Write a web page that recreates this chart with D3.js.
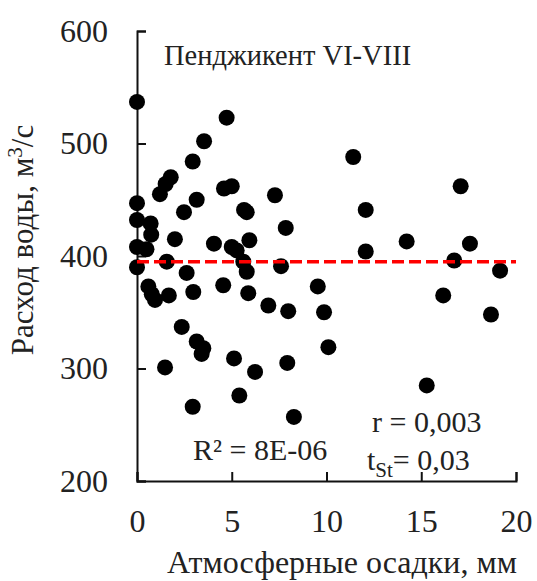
<!DOCTYPE html>
<html>
<head>
<meta charset="utf-8">
<script src="https://cdn.jsdelivr.net/npm/d3@7"></script>
<style>
  body { margin: 0; background: #fff; }
</style>
</head>
<body>
<div id="chart"></div>
<script>
// precipitation (mm) and discharge (m3/s)
let precip = [0, 4.73, 3.54, 2.94, 1.78, 1.51, 1.21, 0, 3.15, 4.59, 5.0, 7.28, 2.48, 5.65, 5.79,
    0, 0.72, 0.75, 0, 0.5, 2.0, 4.06, 5.0, 5.26, 5.93, 7.85, 0, 1.57, 2.62, 5.61, 5.79,
    0.6, 0.78, 0.95, 1.68, 2.97, 4.55, 5.87, 6.93, 2.36, 3.15, 3.5, 3.41, 5.12, 6.23, 1.48,
    5.4, 2.94, 11.41, 17.08, 12.07, 14.23, 17.57, 12.07, 16.74, 7.6, 19.16, 9.54, 16.16,
    7.98, 9.87, 18.68, 10.1, 7.93, 15.29, 8.28];
let discharge = [537, 523, 502, 484, 470, 464, 455, 447, 450, 460, 462, 454, 439, 441, 439,
    432, 429, 419, 408, 406, 415, 411, 408, 405, 414, 425, 390, 395, 385, 395, 386,
    373, 366, 361, 365, 368, 374, 367, 356, 337, 324, 318, 313, 309, 297, 301,
    276, 266, 488, 462, 441, 413, 411, 404, 396, 391, 387, 373, 365,
    351, 350, 348, 319, 305, 285, 257];
let meanLine = [[0, 395], [20, 395]];
let xTicks = [0, 5, 10, 15, 20];
let yTicks = [200, 300, 400, 500, 600];

let serif = "'Liberation Serif', 'Times New Roman', 'DejaVu Serif', serif";
let width = 537, height = 581;
let margin = {top: 31, right: 21, bottom: 100, left: 137};

let svg = d3.select("#chart")
    .append("svg")
    .attr("width", width)
    .attr("height", height)
    .attr("font-family", serif);

let x = d3.scaleLinear().domain([0, 20]).range([margin.left, width - margin.right]);
let y = d3.scaleLinear().domain([200, 600]).range([height - margin.bottom, margin.top]);

// axes, ticks pointing inward
let xAxis = svg.append("g")
    .attr("transform", "translate(0," + y(200) + ")")
    .call(d3.axisBottom(x).tickValues(xTicks).tickSize(-9).tickPadding(28));
let yAxis = svg.append("g")
    .attr("transform", "translate(" + x(0) + ",0)")
    .call(d3.axisLeft(y).tickValues(yTicks).tickSize(-9).tickPadding(29));

[xAxis, yAxis].forEach(g => {
    g.attr("font-family", serif).attr("font-size", 32);
    g.select(".domain").attr("stroke", "#111").attr("stroke-width", 2);
    g.selectAll(".tick line").attr("stroke", "#111").attr("stroke-width", 2);
    g.selectAll(".tick text").attr("fill", "#222");
});

// dots
svg.append("g")
    .selectAll("circle")
    .data(precip.map((d, i) => ({x: d, y: discharge[i]})))
    .enter()
    .append("circle")
    .attr("cx", d => x(d.x))
    .attr("cy", d => y(d.y))
    .attr("r", 8)
    .style("fill", "#000");

// mean line
svg.append("path")
    .datum(meanLine)
    .attr("d", d3.line().x(d => x(d[0])).y(d => y(d[1])))
    .attr("fill", "none")
    .attr("stroke", "#ff0000")
    .attr("stroke-width", 3.5)
    .attr("stroke-dasharray", "12,5");

// labels
let label = (px, py, size, txt) => svg.append("text")
    .attr("x", px)
    .attr("y", py)
    .attr("fill", "#222")
    .attr("font-size", size)
    .text(txt);

label(164, 65, 28.5, "Пенджикент VI-VIII");
label(193, 460, 30, "R² = 8E-06");
label(372, 432, 30, "r = 0,003");

let tst = label(367, 470, 30, null);
tst.append("tspan").text("t");
tst.append("tspan").attr("dy", 7).attr("font-size", 21).text("St");
tst.append("tspan").attr("dy", -7).text("= 0,03");

label(342, 573, 32, "Атмосферные осадки, мм").attr("text-anchor", "middle");

let yl = svg.append("text")
    .attr("transform", "translate(33,240) rotate(-90)")
    .attr("text-anchor", "middle")
    .attr("fill", "#222")
    .attr("font-size", 31);
yl.append("tspan").text("Расход воды, м");
yl.append("tspan").attr("dy", -11).attr("font-size", 21).text("3");
yl.append("tspan").attr("dy", 11).text("/с");
</script>
</body>
</html>
